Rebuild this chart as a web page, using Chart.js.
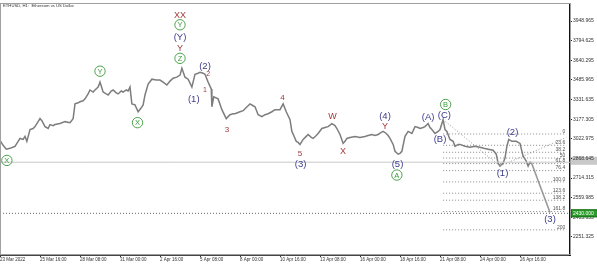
<!DOCTYPE html>
<html><head><meta charset="utf-8">
<script src="https://cdn.jsdelivr.net/npm/chart.js@4/dist/chart.umd.min.js"></script>
<style>html,body{margin:0;padding:0;background:#fff}#wrap{width:597px;height:265px;position:relative}</style>
</head><body><div id="wrap"><canvas id="c" width="597" height="265"></canvas></div>
<script>
// ---- data (hours since 23 Mar 2022 00:00, ETHUSD price) ----
const HOURS = [0,5,10,16,24,29,32,37,40,43,48,53,56,61,64,67,72,77,80,85,88,96,104,112,117,120,125,128,133,136,141,144,149,152,157,160,165,170,173,178,181,186,189,194,197,202,205,208,211,216,221,226,229,232,237,243,250,256,261,267,272,277,283,288,291,296,301,307,312,317,320,325,328,333,338,339,342,349,355,362,368,373,376,384,389,392,397,400,405,408,413,419,424,429,435,440,445,448,453,458,464,467,470,474,477,480,485,490,493,498,501,506,509,515,520,525,531,536,539,544,549,552,555,560,568,576,584,589,595,600,605,610,613,618,621,624,629,632,637,640,643,648,653,656,659,664,669,672,677,680,685,688,691,696,701,704,709,712,715,720,725,728,733,736,744,752,760,768,774,781,789,794,797,800,805,808,811,814,819,826,832,835,837,842,845,848,850];
const PRICES = [3010,2972,2941,2948,2964,3003,3026,3018,3042,3003,3096,3104,3119,3158,3182,3166,3119,3104,3135,3127,3135,3143,3158,3150,3182,3298,3306,3314,3322,3337,3376,3407,3391,3407,3430,3469,3391,3376,3368,3399,3407,3384,3376,3399,3391,3407,3399,3430,3298,3290,3236,3267,3290,3368,3454,3492,3485,3485,3469,3446,3477,3500,3508,3524,3578,3508,3492,3430,3531,3539,3547,3539,3531,3469,3415,3275,3353,3337,3252,3182,3213,3220,3220,3236,3244,3259,3283,3298,3283,3275,3213,3197,3213,3220,3236,3252,3252,3252,3298,3236,3174,3081,3049,3003,2995,2979,3018,3042,3057,3034,3026,3049,3065,3104,3112,3119,3143,3127,3104,3057,2987,3003,3026,3034,3042,3034,3042,3049,3057,3049,3057,3073,3081,3065,3049,3026,2979,2925,2902,2909,2925,3042,3081,3073,3065,3119,3112,3104,3112,3119,3143,3112,3096,3065,3081,3096,3174,3096,3081,3018,3003,2964,2979,2979,2964,2956,2964,2956,2948,2941,2933,2902,2832,2808,2832,2871,2964,3018,3003,3003,2987,2925,2886,2847,2808,2839,2839];
const PROJ_HOURS = [850, 880];
const PROJ_PRICES = [2839, 2443];

const X_TICKS = [0,64,128,192,256,320,384,448,512,576,640,704,768,832];
const X_LABELS = ['23 Mar 2022','25 Mar 16:00','28 Mar 08:00','31 Mar 00:00','2 Apr 16:00','5 Apr 08:00','8 Apr 00:00','10 Apr 16:00','13 Apr 08:00','16 Apr 00:00','18 Apr 16:00','21 Apr 08:00','24 Apr 00:00','26 Apr 16:00'];
const Y_TICKS = [2251.325,2405.655,2559.985,2714.315,2868.645,3022.975,3177.305,3331.635,3485.965,3640.295,3794.625,3948.965];
const Y_LABELS = ['2251.325','2405.655','2559.985','2714.315','2868.645','3022.975','3177.305','3331.635','3485.965','3640.295','3794.625','3948.965'];

const FIB_LABELS = ['0','23.6','38.2','50','61.8','76.4','100.0','123.6','138.2','161.8','200'];
const FIB_PRICES = [3061,2972,2917,2872,2828,2773,2684,2595,2540,2451,2307];
const FIB_FROM = 709, FIB_TO = 906;
const DIAG1_HOURS = [709, 800], DIAG1_PRICES = [3174, 2808];
const DIAG2_HOURS = [800, 906], DIAG2_PRICES = [2808, 3034];

const HLINE_PRICE = 2839;
const TARGET_PRICE = 2437, TARGET_TEXT = '2430.000';
const BID_PRICE = 2850;
const TITLE = 'ETHUSD, H1:  Ethereum vs US Dollar';

const NOTE_TEXT  = ['XX','Y','(Y)','Y','Z','Y','X','X','(1)','(2)','2','1','3','4','5','(3)','W','X','(4)','Y','(5)','A','(A)','(B)','(C)','B','(1)','(2)','(3)'];
const NOTE_HOUR  = [288,288,288,288,288,160,220,11,310,328,333,328,363,452,480,481,532,549,616,616,636,635,685,704,711,713,804,820,880];
const NOTE_PRICE = [3998,3920,3827,3741,3656,3555,3150,2853,3335,3594,3534,3409,3101,3353,2912,2822,3203,2925,3203,3127,2829,2738,3197,3024,3215,3293,2752,3080,2396];
const NOTE_KIND  = ['red','circle','navy','red','circle','circle','circle','circle','navy','navy','small','small','num','num','num','navy','red','red','navy','red','navy','circle','navy','navy','navy','circle','navy','navy','navy'];

// ---- styles ----
const STYLE = {
  red:   {color:'#a33a3a', font:'9px "Liberation Sans", Arial, sans-serif'},
  num:   {color:'#a33a3a', font:'8px "Liberation Sans", Arial, sans-serif'},
  small: {color:'#a33a3a', font:'7px "Liberation Sans", Arial, sans-serif'},
  navy:  {color:'#3b3b8c', font:'9.5px "Liberation Sans", Arial, sans-serif'},
  circle:{color:'#3a9a3a', font:'7.5px "Liberation Sans", Arial, sans-serif'}
};

const pts = (hs, ps) => hs.map((h, i) => ({x: h, y: ps[i]}));

const datasets = [];
datasets.push({data: pts([0, 912], [HLINE_PRICE, HLINE_PRICE]), borderColor:'#c8c8c8', borderWidth:1});
datasets.push({data: pts([0, 912], [TARGET_PRICE, TARGET_PRICE]), borderColor:'#666', borderWidth:1, borderDash:[1,2]});
FIB_PRICES.forEach(p => datasets.push({data: pts([FIB_FROM, FIB_TO], [p, p]), borderColor:'#8a8a8a', borderWidth:1, borderDash:[1,2]}));
datasets.push({data: pts(DIAG1_HOURS, DIAG1_PRICES), borderColor:'#9a9a9a', borderWidth:1, borderDash:[1,2]});
datasets.push({data: pts(DIAG2_HOURS, DIAG2_PRICES), borderColor:'#9a9a9a', borderWidth:1, borderDash:[1,2]});
datasets.push({data: pts(PROJ_HOURS, PROJ_PRICES), borderColor:'#999', borderWidth:1.6});
datasets.push({data: pts(HOURS, PRICES), borderColor:'#7d7d7d', borderWidth:1.5});
datasets.forEach(d => { d.pointRadius = 0; d.tension = 0; d.fill = false; });

const decor = {
  id: 'decor',
  beforeDraw(chart) {
    const {ctx, chartArea: a, scales: {y}} = chart;
    ctx.save();
    ctx.fillStyle = '#fff';
    ctx.fillRect(0, 0, chart.width, chart.height);
    const by = y.getPixelForValue(BID_PRICE);
    ctx.fillStyle = '#c9c9c9';
    ctx.fillRect(a.right + 1, by - 4, 27, 8);
    ctx.restore();
  },
  afterDatasetsDraw(chart) {
    const {ctx, chartArea: a, scales: {x, y}} = chart;
    ctx.save();
    // fib labels
    ctx.font = '5px "Liberation Sans", Arial, sans-serif';
    ctx.fillStyle = '#555';
    ctx.textAlign = 'right';
    ctx.textBaseline = 'bottom';
    FIB_PRICES.forEach((p, i) => ctx.fillText(FIB_LABELS[i], x.getPixelForValue(FIB_TO) - 1, y.getPixelForValue(p)));
    // wave labels
    ctx.textAlign = 'center';
    ctx.textBaseline = 'middle';
    for (let i = 0; i < NOTE_TEXT.length; i++) {
      const s = STYLE[NOTE_KIND[i]];
      const px = x.getPixelForValue(NOTE_HOUR[i]);
      const py = y.getPixelForValue(NOTE_PRICE[i]);
      ctx.font = s.font;
      ctx.fillStyle = s.color;
      ctx.fillText(NOTE_TEXT[i], px, py + 0.5);
      if (NOTE_KIND[i] === 'circle') {
        ctx.strokeStyle = s.color;
        ctx.lineWidth = 0.9;
        ctx.beginPath();
        ctx.arc(px, py, 5.2, 0, Math.PI * 2);
        ctx.stroke();
      }
    }
    // frame
    ctx.strokeStyle = '#a0a0a0';
    ctx.lineWidth = 1;
    ctx.strokeRect(a.left + 0.5, a.top - 0.5, a.right - a.left, a.bottom - a.top);
    // title
    ctx.font = '4.2px "Liberation Sans", Arial, sans-serif';
    ctx.fillStyle = '#333';
    ctx.textAlign = 'left';
    ctx.textBaseline = 'middle';
    ctx.fillText(TITLE, 3, 6);
    ctx.restore();
  },
  afterDraw(chart) {
    const {ctx, chartArea: a, scales: {y}} = chart;
    ctx.save();
    const ty = y.getPixelForValue(TARGET_PRICE);
    ctx.fillStyle = '#2a9a2a';
    ctx.fillRect(a.right + 1, ty - 4, 27, 8);
    ctx.strokeStyle = '#136a13';
    ctx.lineWidth = 0.8;
    ctx.strokeRect(a.right + 1.5, ty - 3.5, 26, 7);
    ctx.fillStyle = '#fff';
    ctx.font = '5px "Liberation Sans", Arial, sans-serif';
    ctx.textAlign = 'left';
    ctx.textBaseline = 'middle';
    ctx.fillText(TARGET_TEXT, a.right + 3, ty + 0.5);
    ctx.restore();
  }
};

new Chart(document.getElementById('c'), {
  type: 'line',
  data: {datasets},
  plugins: [decor],
  options: {
    responsive: false,
    animation: false,
    devicePixelRatio: 1,
    layout: {padding: {top: 1, left: 0, right: 0, bottom: 0}},
    plugins: {legend: {display: false}, tooltip: {enabled: false}},
    scales: {
      x: {
        type: 'linear', position: 'bottom', min: 0, max: 912,
        afterBuildTicks: s => { s.ticks = X_TICKS.map(v => ({value: v})); },
        afterFit: s => { s.height = 10; },
        grid: {display: true, drawOnChartArea: false, tickLength: 2, color: '#333'},
        border: {display: true, color: '#444', width: 1},
        ticks: {
          autoSkip: false, maxRotation: 0, minRotation: 0, align: 'start', padding: 0,
          color: '#333', font: {size: 4.5, family: '"Liberation Sans", Arial, sans-serif'},
          callback: (v, i) => X_LABELS[i]
        }
      },
      y: {
        type: 'linear', position: 'right', min: 2109.1, max: 4083.4,
        afterBuildTicks: s => { s.ticks = Y_TICKS.map(v => ({value: v})); },
        afterFit: s => { s.width = 27; },
        grid: {display: true, drawOnChartArea: false, tickLength: 2, color: '#222'},
        border: {display: true, color: '#111', width: 1.5},
        ticks: {
          autoSkip: false, padding: 1, color: '#333',
          font: {size: 5, family: '"Liberation Sans", Arial, sans-serif'},
          callback: (v, i) => Y_LABELS[i]
        }
      }
    }
  }
});
</script></body></html>
